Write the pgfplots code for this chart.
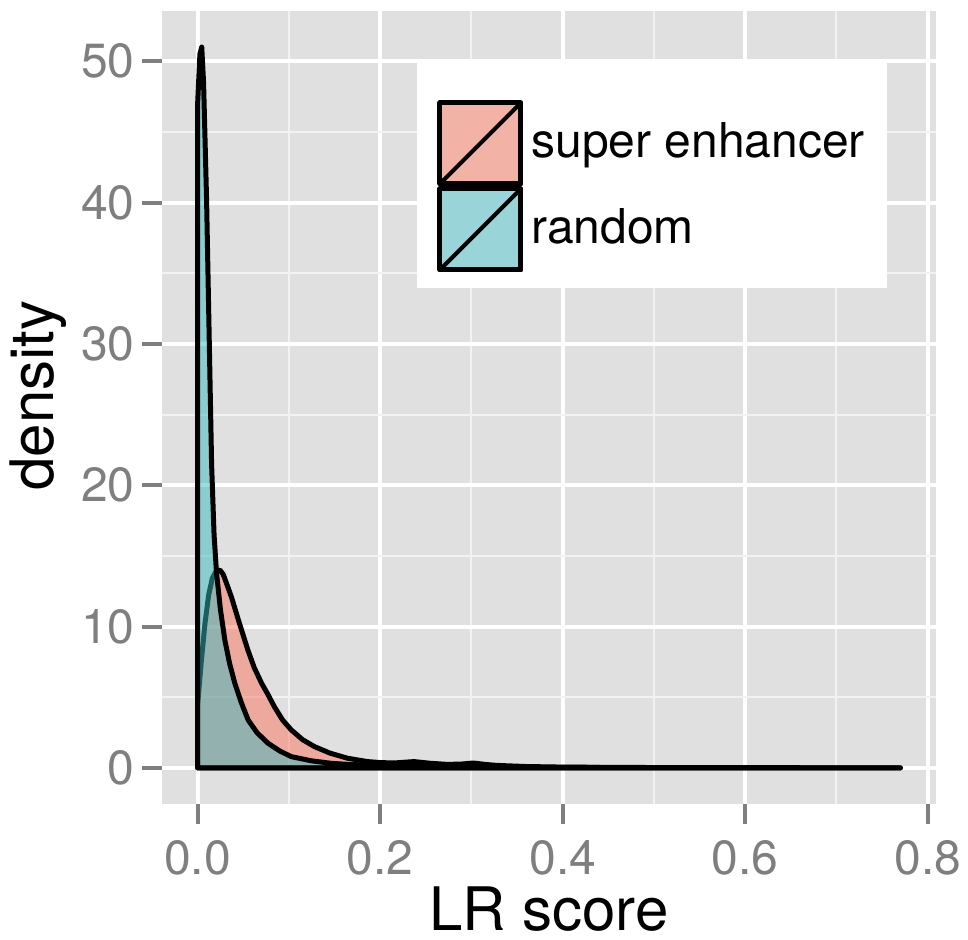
\documentclass[border=0pt]{standalone}
\usepackage{fontspec}
\setmainfont{TeX Gyre Heros}
\usepackage{pgfplots}
\pgfplotsset{compat=1.18}
\definecolor{sefill}{HTML}{FC7460}
\definecolor{rdfill}{HTML}{38BAC0}
\definecolor{sekey}{HTML}{F2B2A6}
\definecolor{rdkey}{HTML}{98D4D8}
\definecolor{panelbg}{HTML}{E0E0E0}
\definecolor{tickgrey}{HTML}{7F7F7F}
\definecolor{minorgrid}{HTML}{F2F2F2}

\begin{document}
\begin{tikzpicture}
\begin{axis}[
    name=ax,
    scale only axis,
    width=386.5pt, height=396.5pt,
    xmin=-0.0385, xmax=0.8085,
    ymin=-2.55, ymax=53.55,
    axis background/.style={fill=panelbg},
    axis line style={draw=none},
    xtick={0,0.2,0.4,0.6,0.8},
    ytick={0,10,20,30,40,50},
    minor xtick={0.1,0.3,0.5,0.7},
    minor ytick={5,15,25,35,45},
    xtick pos=bottom, ytick pos=left,
    tick align=outside,
    major tick length=10pt, minor tick length=0pt,
    tick style={color=tickgrey, line width=2pt},
    grid=both,
    major grid style={white, line width=2pt},
    minor grid style={minorgrid, line width=1pt},
    /pgf/number format/assume math mode=true,
    xticklabel={\pgfmathprintnumber[fixed,fixed zerofill,precision=1]{\tick}},
    tick label style={font=\fontsize{24pt}{28pt}\selectfont, text=tickgrey},
    xticklabel style={inner sep=0pt, yshift=-8pt},
    yticklabel style={inner sep=0pt, xshift=-3.75pt},
    xlabel={LR score},
    ylabel={density},
    label style={font=\fontsize{30pt}{36pt}\selectfont},
    xlabel style={at={(axis description cs:0.5,0)}, anchor=north, inner sep=0pt, yshift=-41pt},
    ylabel style={at={(axis description cs:0,0.515)}, anchor=south, inner sep=0pt, yshift=47.75pt},
    legend style={at={(axis description cs:0.355,0.8878)}, anchor=north west,
        draw=none, fill=none, inner sep=0pt, row sep=0pt, column sep=4pt,
        font=\fontsize{24pt}{28pt}\selectfont,
        nodes={inner sep=0pt}},
    legend cell align=left,
]
% legend panel
\fill[white] (rel axis cs:0.329,0.6507) rectangle (rel axis cs:0.937,0.9357);

\addplot[draw=black, line width=2.5pt, line join=round, fill=sefill, fill opacity=0.5,
    legend image code/.code={
        \fill[fill=sekey, fill opacity=1] (0pt,-21pt) rectangle (40.5pt,19.5pt);
        \draw[draw=black, fill=none, line width=2pt] (0pt,-21pt) rectangle (40.5pt,19.5pt);
        \draw[draw=black, fill=none, line width=2pt] (0pt,-21pt) -- (40.5pt,19.5pt);
    }] coordinates {
    (0,0) (0,4.5) (0.004,7.5) (0.008,10.2) (0.012,12.2) (0.016,13.4) (0.02,13.9)
    (0.0244,14.0) (0.028,13.7) (0.032,13.0) (0.037,12.1) (0.045,10.4) (0.055,8.35)
    (0.062,7.1) (0.070,6.0) (0.077,5.2) (0.084,4.34) (0.093,3.4) (0.1026,2.69)
    (0.115,2.0) (0.128,1.51) (0.145,1.05) (0.164,0.69) (0.186,0.45) (0.2,0.38)
    (0.215,0.35) (0.237,0.45) (0.255,0.33) (0.274,0.25) (0.29,0.28) (0.302,0.35)
    (0.315,0.25) (0.328,0.18) (0.36,0.1) (0.4,0.06) (0.45,0.04) (0.5,0.03)
    (0.6,0.02) (0.7,0.01) (0.77,0.005) (0.77,0)
} -- cycle;
\addlegendentry{super enhancer}

\addplot[draw=black, line width=2.5pt, line join=round, fill=rdfill, fill opacity=0.5,
    legend image code/.code={
        \fill[fill=rdkey, fill opacity=1] (0pt,-21pt) rectangle (40.5pt,19.5pt);
        \draw[draw=black, fill=none, line width=2pt] (0pt,-21pt) rectangle (40.5pt,19.5pt);
        \draw[draw=black, fill=none, line width=2pt] (0pt,-21pt) -- (40.5pt,19.5pt);
    }] coordinates {
    (0,0) (0,47) (0.0025,50.5) (0.0045,51) (0.0065,48.5) (0.0098,40.2) (0.0128,30)
    (0.0153,21.5) (0.018,16.5) (0.0207,13.8) (0.025,11.2) (0.0298,9.05) (0.035,7.4)
    (0.0407,6.0) (0.048,4.6) (0.0553,3.4) (0.065,2.5) (0.0771,1.75) (0.09,1.2)
    (0.1026,0.8) (0.125,0.5) (0.146,0.33) (0.165,0.25) (0.182,0.21) (0.2,0.17)
    (0.22,0.14) (0.237,0.2) (0.26,0.12) (0.3,0.1) (0.35,0.06) (0.4,0.04)
    (0.5,0.02) (0.6,0.01) (0.77,0.005) (0.77,0)
} -- cycle;
\addlegendentry{random}
\end{axis}
\pgfresetboundingbox
\path[use as bounding box] ([shift={(-81.25pt,-68pt)}]ax.south west) rectangle ([shift={(402.75pt,402pt)}]ax.south west);
\end{tikzpicture}
\end{document}
